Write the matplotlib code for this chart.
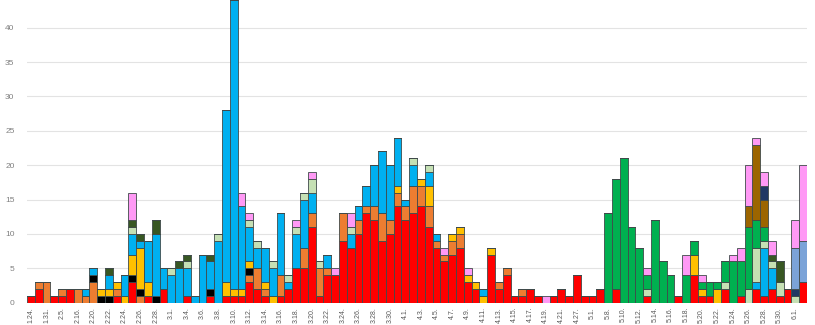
import numpy as np
import matplotlib
matplotlib.use("Agg")
import matplotlib.pyplot as plt

plt.rcParams['font.family'] = ['Liberation Sans Narrow', 'Liberation Sans', 'DejaVu Sans']

dates = ['1.24', '1.27', '1.31', '2.1', '2.5', '2.9', '2.16', '2.18', '2.20', '2.21',
         '2.22', '2.23', '2.24', '2.25', '2.26', '2.27', '2.28', '2.29', '3.1', '3.2',
         '3.4', '3.5', '3.6', '3.7', '3.8', '3.9', '3.10', '3.11', '3.12', '3.13',
         '3.14', '3.15', '3.16', '3.17', '3.18', '3.19', '3.20', '3.21', '3.22', '3.23',
         '3.24', '3.25', '3.26', '3.27', '3.28', '3.29', '3.30', '3.31', '4.1', '4.2',
         '4.3', '4.4', '4.5', '4.6', '4.7', '4.8', '4.9', '4.10', '4.11', '4.12',
         '4.13', '4.14', '4.15', '4.16', '4.17', '4.18', '4.19', '4.20', '4.21', '4.24',
         '4.27', '4.29', '5.1', '5.6', '5.8', '5.9', '5.10', '5.11', '5.12', '5.13',
         '5.14', '5.15', '5.16', '5.17', '5.18', '5.19', '5.20', '5.21', '5.22', '5.23',
         '5.24', '5.25', '5.26', '5.27', '5.28', '5.29', '5.30', '5.31', '6.1', '6.2']

# daily counts per group, stacked bottom to top in this order
red = [1, 2, 0, 1, 1, 2, 0, 0, 0, 0,
       0, 1, 0, 3, 0, 1, 0, 2, 0, 0,
       1, 0, 0, 1, 0, 1, 1, 1, 3, 2,
       1, 0, 1, 2, 5, 5, 11, 1, 4, 4,
       9, 8, 10, 13, 12, 9, 10, 14, 12, 13,
       14, 11, 8, 6, 7, 8, 3, 2, 0, 7,
       2, 4, 1, 1, 2, 1, 0, 1, 2, 1,
       4, 1, 1, 2, 0, 2, 0, 0, 0, 1,
       0, 0, 0, 1, 0, 4, 1, 1, 0, 2,
       0, 1, 0, 2, 1, 2, 1, 2, 0, 3]
orange = [0, 1, 3, 0, 1, 0, 2, 1, 3, 0,
          0, 1, 0, 0, 1, 0, 0, 0, 0, 0,
          0, 0, 0, 0, 0, 0, 0, 0, 1, 3,
          1, 0, 3, 0, 0, 3, 2, 4, 1, 0,
          4, 0, 2, 1, 2, 4, 2, 2, 2, 4,
          3, 3, 1, 1, 2, 2, 0, 0, 0, 0,
          1, 1, 0, 1, 0, 0, 0, 0, 0, 0] + [0] * 30
black = [0, 0, 0, 0, 0, 0, 0, 0, 1, 1,
         1, 0, 0, 1, 1, 0, 1, 0, 0, 0,
         0, 0, 0, 1, 0, 0, 0, 0, 1, 0] + [0] * 70
yellow = [0, 0, 0, 0, 0, 0, 0, 0, 0, 1,
          1, 1, 1, 3, 6, 2, 0, 0, 0, 0,
          0, 0, 0, 0, 0, 2, 1, 1, 1, 0,
          1, 1, 0, 0, 0, 0, 0, 0, 0, 0,
          0, 0, 0, 0, 0, 0, 0, 1, 0, 0,
          1, 3, 0, 0, 1, 1, 1, 1, 1, 1,
          0, 0, 0, 0, 0, 0, 0, 0, 0, 0,
          0, 0, 0, 0, 0, 0, 0, 0, 0, 0,
          0, 0, 0, 0, 0, 3, 1, 0, 2, 0,
          0, 0, 0, 0, 0, 0, 0, 0, 0, 0]
blue = [0, 0, 0, 0, 0, 0, 0, 1, 1, 0,
        2, 0, 3, 3, 1, 6, 9, 3, 4, 5,
        4, 1, 7, 4, 9, 25, 42, 12, 5, 3,
        5, 4, 9, 1, 5, 7, 3, 0, 2, 0,
        0, 2, 2, 3, 6, 9, 8, 7, 1, 3,
        0, 2, 1, 0, 0, 0, 0, 0, 1, 0] + [0] * 30 + \
       [0, 0, 0, 1, 7, 3, 0, 0, 0, 0]
light_green = [0, 0, 0, 0, 0, 0, 0, 0, 0, 0,
               0, 0, 0, 1, 0, 0, 0, 0, 1, 0,
               1, 0, 0, 0, 1, 0, 0, 0, 1, 1,
               0, 1, 0, 1, 1, 1, 2, 1, 0, 0,
               0, 1, 0, 0, 0, 0, 0, 0, 0, 1,
               0, 1, 0, 0, 0, 0, 0, 0, 0, 0,
               0, 0, 0, 0, 0, 0, 0, 0, 0, 0,
               0, 0, 0, 0, 0, 0, 0, 0, 0, 1,
               0, 0, 0, 0, 0, 0, 0, 0, 0, 1,
               0, 0, 2, 5, 1, 1, 2, 0, 1, 0]
green = [0] * 70 + \
        [0, 0, 0, 0, 13, 16, 21, 11, 8, 2,
         12, 6, 4, 0, 4, 2, 1, 2, 1, 3,
         6, 5, 9, 4, 2, 0, 0, 0, 0, 0]
dark_green = [0, 0, 0, 0, 0, 0, 0, 0, 0, 0,
              1, 0, 0, 1, 1, 0, 2, 0, 0, 1,
              1, 0, 0, 1, 0, 0, 0, 0, 0, 0] + [0] * 60 + \
             [0, 0, 0, 0, 0, 1, 3, 0, 0, 0]
brown = [0] * 90 + [0, 0, 3, 11, 4, 0, 0, 0, 0, 0]
navy = [0] * 90 + [0, 0, 0, 0, 2, 0, 0, 0, 1, 0]
light_blue = [0] * 90 + [0, 0, 0, 0, 0, 0, 0, 0, 6, 6]
pink = [0, 0, 0, 0, 0, 0, 0, 0, 0, 0,
        0, 0, 0, 4, 0, 0, 0, 0, 0, 0,
        0, 0, 0, 0, 0, 0, 0, 2, 1, 0,
        0, 0, 0, 0, 1, 0, 1, 0, 0, 1,
        0, 2, 0, 0, 0, 0, 0, 0, 0, 0,
        0, 0, 0, 1, 0, 0, 1, 0, 0, 0,
        0, 0, 0, 0, 0, 0, 1, 0, 0, 0,
        0, 0, 0, 0, 0, 0, 0, 0, 0, 1,
        0, 0, 0, 0, 3, 0, 1, 0, 0, 0,
        1, 2, 6, 1, 2, 2, 0, 0, 4, 11]

series = [red, orange, black, yellow, blue, light_green, green,
          dark_green, brown, navy, light_blue, pink]
colors = ['#FF0000', '#ED7D31', '#000000', '#FFC000', '#00B0F0', '#C5E0B4',
          '#00B050', '#385723', '#9C6500', '#203864', '#7BA3D8', '#FF99F5']

fig = plt.figure(figsize=(8.15, 3.25), dpi=100)
ax = fig.add_axes([27 / 815, 1 - 302.7 / 325, 780 / 815, 302.7 / 325])

x = np.arange(len(dates))
bottom = np.zeros(len(dates))
for vals, c in zip(series, colors):
    vals = np.array(vals, dtype=float)
    ax.bar(x, vals, width=1.0, bottom=bottom, color=c,
           edgecolor='#3F4A4A', linewidth=0.6, zorder=3)
    bottom += vals

ax.set_xlim(-0.5, len(dates) - 0.5)
ax.set_ylim(0, 302.7 / 6.875)
ax.set_yticks(np.arange(0, 45, 5))
ax.yaxis.grid(True, color='#E3E3E3', linewidth=0.8, zorder=0)
ax.set_axisbelow(True)

ax.set_xticks(x[::2])
ax.set_xticklabels([d + '.' for d in dates[::2]], rotation=90,
                   fontsize=5, color='#595959')
ax.tick_params(axis='x', length=0, pad=3)
ax.tick_params(axis='y', length=0, pad=9, labelsize=6, labelcolor='#808080')
for s in ax.spines.values():
    s.set_visible(False)

fig.savefig('out.png', dpi=100)
